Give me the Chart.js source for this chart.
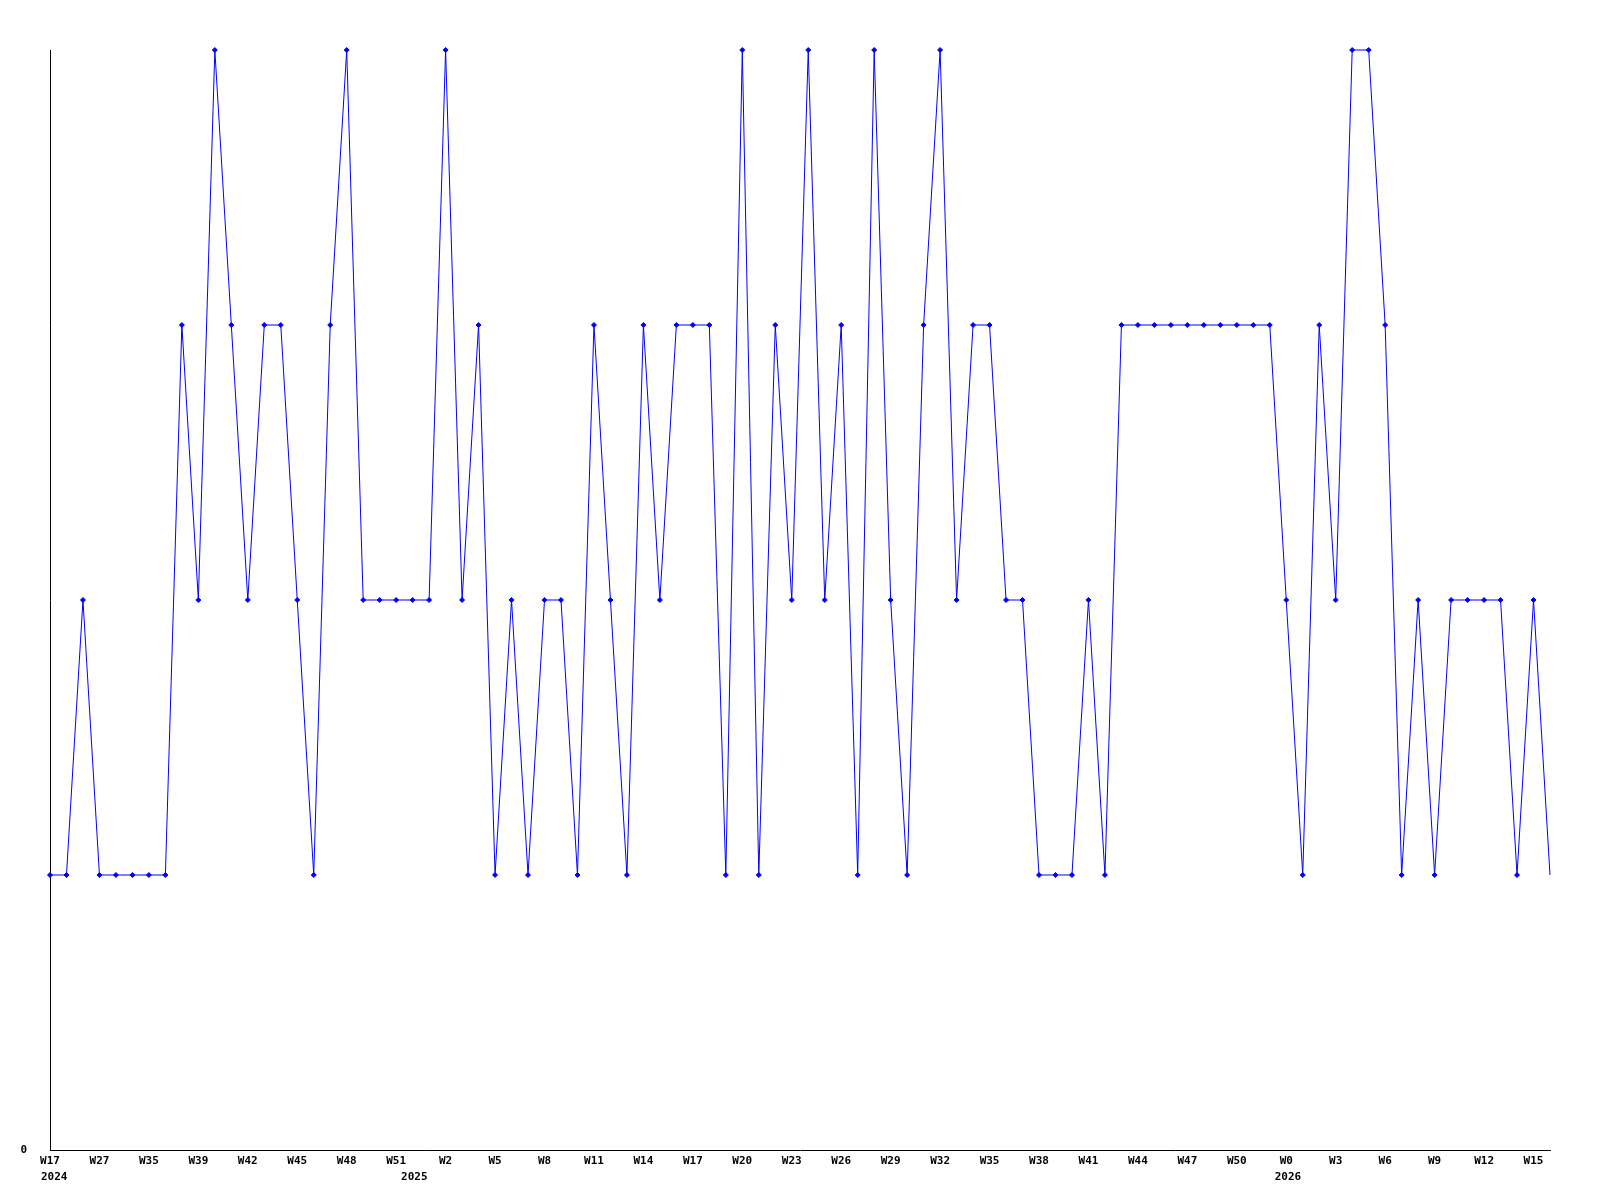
<!DOCTYPE html>
<html>
<head>
<meta charset="utf-8">
<script src="https://cdn.jsdelivr.net/npm/chart.js@4/dist/chart.umd.min.js"></script>
<style>
  html, body { margin: 0; padding: 0; background: #ffffff; }
  #wrap { width: 1600px; height: 1200px; }
</style>
</head>
<body>
<div id="wrap"><canvas id="c" width="1600" height="1200"></canvas></div>
<script>
// Week tick labels (one every 3 data points)
const tickLabels = ['W17','W27','W35','W39','W42','W45','W48','W51','W2','W5','W8','W11','W14','W17','W20','W23','W26','W29','W32','W35','W38','W41','W44','W47','W50','W0','W3','W6','W9','W12','W15'];
// Year labels and where they sit along the point index axis
const yearLabels = ['2024','2025','2026'];
const yearPositions = [-0.55, 21.3, 74.3];
// Series values, one per point (92 points)
const values = [
  1,1,2,1,1,1,1,1,3,2,
  4,3,2,3,3,2,1,3,4,2,
  2,2,2,2,4,2,3,1,2,1,
  2,2,1,3,2,1,3,2,3,3,
  3,1,4,1,3,2,4,2,3,1,
  4,2,1,3,4,2,3,3,2,2,
  1,1,1,2,1,3,3,3,3,3,
  3,3,3,3,3,2,1,3,2,4,
  4,3,1,2,1,2,2,2,2,1,
  2,1
];
const yTickLabels = ['0'];

const FONT = { family: "'DejaVu Sans Mono', monospace", size: 11, weight: 'bold' };

const yearPlugin = {
  id: 'yearLabels',
  afterDraw(chart) {
    const ctx = chart.ctx;
    const xs = chart.scales.x;
    ctx.save();
    ctx.font = 'bold 11px "DejaVu Sans Mono", monospace';
    ctx.fillStyle = '#000000';
    ctx.textAlign = 'left';
    ctx.textBaseline = 'middle';
    yearLabels.forEach((t, k) => {
      ctx.fillText(t, xs.getPixelForValue(yearPositions[k]), xs.top + 27);
    });
    ctx.restore();
  }
};

const lastIndex = values.length - 1;

new Chart(document.getElementById('c'), {
  type: 'line',
  data: {
    datasets: [{
      data: values.map((v, i) => ({ x: i, y: v })),
      borderColor: '#0000ff',
      backgroundColor: '#0000ff',
      borderWidth: 1,
      pointStyle: 'rectRot',
      pointRadius: (c) => (c.dataIndex === lastIndex ? 0 : 2.5),
      pointBorderWidth: 1,
      pointBorderColor: '#0000ff',
      pointBackgroundColor: '#0000ff',
      tension: 0,
      fill: false,
      clip: false
    }]
  },
  options: {
    responsive: false,
    animation: false,
    devicePixelRatio: 1,
    layout: { padding: { top: 50, right: 50, left: 0, bottom: 0 } },
    plugins: { legend: { display: false }, tooltip: { enabled: false }, title: { display: false } },
    scales: {
      x: {
        type: 'linear',
        min: 0,
        max: values.length - 1,
        grid: { display: false, drawTicks: false },
        border: { display: true, color: '#000000', width: 1 },
        afterBuildTicks: (scale) => { scale.ticks = tickLabels.map((_, k) => ({ value: k * 3 })); },
        afterFit: (scale) => { scale.height = 50; },
        ticks: {
          autoSkip: false,
          maxRotation: 0,
          minRotation: 0,
          padding: 5,
          color: '#000000',
          font: FONT,
          callback: (v) => tickLabels[Math.round(v / 3)]
        }
      },
      y: {
        type: 'linear',
        min: 0,
        max: 4,
        grid: { display: false, drawTicks: false },
        border: { display: true, color: '#000000', width: 1 },
        afterBuildTicks: (scale) => { scale.ticks = yTickLabels.map((t) => ({ value: Number(t) })); },
        afterFit: (scale) => { scale.width = 50; },
        ticks: {
          padding: 23,
          color: '#000000',
          font: FONT,
          callback: (v) => String(v)
        }
      }
    }
  },
  plugins: [yearPlugin]
});
</script>
</body>
</html>
